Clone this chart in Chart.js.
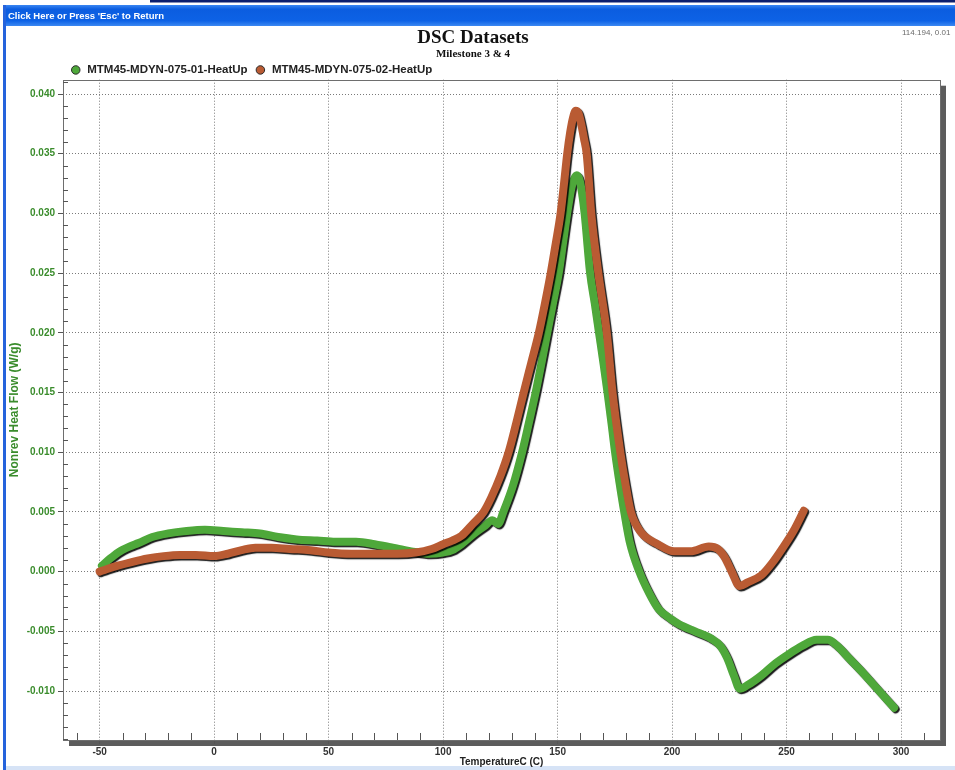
<!DOCTYPE html>
<html>
<head>
<meta charset="utf-8">
<title>DSC Datasets</title>
<script src="https://cdn.jsdelivr.net/npm/chart.js@4.4.1/dist/chart.umd.min.js"></script>
<style>
  html, body { margin: 0; padding: 0; background: #fff; }
  #wrap { position: relative; width: 955px; height: 770px; }
</style>
</head>
<body>
<div id="wrap"><canvas id="dsc-chart"></canvas></div>
<script>
// run 01 - heat up
const tempsRun01 = [
  -49, -46, -42, -37, -33, -27, -20, -12, -4, 4, 12, 20, 28, 36, 45, 53, 62, 70, 78, 86,
  94, 100, 104, 108, 113, 118, 121.5, 124, 126.3, 130.5, 134.5, 137.5, 140.4, 143, 145.5,
  148, 150.5, 152.5, 154.2, 156, 157.2, 158.4, 159.6, 160.6, 161.8, 164.2, 166.2, 168.1, 170,
  171.8, 173.5, 175.1, 177, 179.1, 181.5, 185.7, 190, 194, 199, 203, 210, 217, 221, 224, 227,
  229.5, 233, 239, 245, 251, 257, 263, 268, 272, 277, 283, 290, 297
];
const heatFlowRun01 = [
  0.0005, 0.0010, 0.0016, 0.0021, 0.0024, 0.0029, 0.0032, 0.0034, 0.0035, 0.0034, 0.0033,
  0.0032, 0.0029, 0.0027, 0.0026, 0.0025, 0.0025, 0.0023, 0.0020, 0.0017, 0.0015, 0.0016,
  0.0018, 0.0023, 0.0031, 0.0038, 0.0043, 0.0040, 0.0050, 0.0072, 0.0100, 0.0125, 0.0150,
  0.0175, 0.0200, 0.0225, 0.0250, 0.0277, 0.0300, 0.0321, 0.0329, 0.0332, 0.0328, 0.0318,
  0.0300, 0.0250, 0.0225, 0.0200, 0.0175, 0.0150, 0.0125, 0.0100, 0.0075, 0.0050, 0.0025,
  0.0000, -0.0018, -0.0031, -0.0039, -0.0044, -0.0050, -0.0056, -0.0062, -0.0072, -0.0087,
  -0.0098, -0.0095, -0.0087, -0.0077, -0.0069, -0.0062, -0.0057, -0.0057, -0.0062, -0.0072,
  -0.0084, -0.0099, -0.0114
];

// run 02 - heat up
const tempsRun02 = [
  -50, -47, -42, -36, -29, -22, -15, -8, 0, 6, 12, 18, 25, 33, 42, 50, 60, 70, 80, 88, 95,
  100, 104, 108, 113, 117.7, 121, 125, 128.6, 132, 135.2, 138.5, 141.8, 144.5, 147, 149.2,
  151.3, 152.8, 154.2, 155.5, 156.7, 157.9, 159.1, 160.3, 161.5, 162.7, 164.7, 167.8, 171.5,
  174, 177.4, 179.5, 182, 186.4, 193.7, 200.9, 208, 216, 220, 223, 226, 229.5, 233, 239, 244,
  248, 253, 257.5
];
const heatFlowRun02 = [
  0.0000, 0.0002, 0.0005, 0.0008, 0.0011, 0.0013, 0.0014, 0.0014, 0.0013, 0.0015, 0.0018,
  0.0020, 0.0020, 0.0019, 0.0018, 0.0016, 0.0015, 0.0015, 0.0015, 0.0016, 0.0019, 0.0023,
  0.0026, 0.0030, 0.0040, 0.0050, 0.0062, 0.0080, 0.0100, 0.0125, 0.0150, 0.0175, 0.0200,
  0.0225, 0.0250, 0.0275, 0.0300, 0.0325, 0.0350, 0.0368, 0.0380, 0.0386, 0.0384, 0.0375,
  0.0363, 0.0350, 0.0300, 0.0250, 0.0200, 0.0150, 0.0100, 0.0075, 0.0050, 0.0033, 0.0023,
  0.0017, 0.0017, 0.0021, 0.0019, 0.0012, 0.0000, -0.0012, -0.0009, -0.0003, 0.0008, 0.0019,
  0.0034, 0.0051
];

const seriesNames = ['MTM45-MDYN-075-01-HeatUp', 'MTM45-MDYN-075-02-HeatUp'];

// axis ranges and steps
const tempRange = [-66, 317];
const tempMajorStep = 50;
const tempMinorStep = 10;
const flowRange = [-0.0141, 0.0412];
const flowMajorStep = 0.005;
const flowMinorStep = 0.001;

const greenColor = '#4ea83a';
const brownColor = '#b95b33';
const axisGreen = '#3a8c2c';

const toPoints = (xs, ys) => xs.map((x, i) => ({ x: x, y: ys[i] }));

// window chrome, frame shadow and background
const windowChrome = {
  id: 'windowChrome',
  beforeDraw(chart) {
    const ctx = chart.ctx;
    const w = chart.width, h = chart.height;
    const area = chart.chartArea;
    ctx.save();
    ctx.fillStyle = '#ffffff';
    ctx.fillRect(0, 0, w, h);

    // top rule
    ctx.fillStyle = '#0c1f6e';
    ctx.fillRect(150, 0, w - 150, 2.5);

    // title bar
    const bar = ctx.createLinearGradient(0, 5, 0, 26);
    bar.addColorStop(0, '#3a86f2');
    bar.addColorStop(0.2, '#0b5de0');
    bar.addColorStop(0.75, '#0d62e6');
    bar.addColorStop(1, '#3c88f2');
    ctx.fillStyle = bar;
    ctx.fillRect(3, 5, w - 3, 21);
    ctx.fillStyle = '#ffffff';
    ctx.font = 'bold 9.5px "Liberation Sans", Arial, sans-serif';
    ctx.textBaseline = 'middle';
    ctx.fillText("Click Here or Press 'Esc' to Return", 8, 16);

    // window borders
    ctx.fillStyle = '#2563dc';
    ctx.fillRect(3, 5, 3, h - 5);
    ctx.fillStyle = '#d6e3f6';
    ctx.fillRect(6, h - 4, w - 6, 4);

    // cursor readout
    ctx.fillStyle = '#6a6a6a';
    ctx.font = '8px "Liberation Sans", Arial, sans-serif';
    ctx.fillText('114.194, 0.01', 902, 33);

    // plot drop shadow
    ctx.fillStyle = '#5c5c5c';
    ctx.fillRect(area.right + 1, area.top + 6, 5, area.bottom - area.top);
    ctx.fillRect(area.left + 6, area.bottom + 1, area.right - area.left, 5);
    ctx.restore();
  }
};

// the legend row sits close above the plot
const compactLegend = {
  id: 'compactLegend',
  beforeLayout(chart) {
    const legend = chart.legend;
    if (legend && !legend._compact) {
      const fit = legend.fit;
      legend.fit = function() {
        fit.call(this);
        this.height -= 6;
      };
      legend._compact = true;
    }
  }
};

// plot frame and inner minor ticks
const plotFrame = {
  id: 'plotFrame',
  beforeDatasetsDraw(chart) {
    const ctx = chart.ctx;
    const area = chart.chartArea;
    const xScale = chart.scales.x, yScale = chart.scales.y;
    ctx.save();
    ctx.strokeStyle = '#6e6e6e';
    ctx.lineWidth = 1;
    ctx.strokeRect(Math.round(area.left) + 0.5, Math.round(area.top) + 0.5,
      Math.round(area.right - area.left), Math.round(area.bottom - area.top));

    ctx.strokeStyle = '#555555';
    ctx.beginPath();
    const xPerMajor = Math.round(tempMajorStep / tempMinorStep);
    for (let i = Math.ceil(tempRange[0] / tempMinorStep); i * tempMinorStep <= tempRange[1]; i++) {
      if (i % xPerMajor === 0) continue;
      const px = Math.round(xScale.getPixelForValue(i * tempMinorStep)) + 0.5;
      ctx.moveTo(px, area.bottom);
      ctx.lineTo(px, area.bottom - 7);
    }
    const yPerMajor = Math.round(flowMajorStep / flowMinorStep);
    for (let i = Math.ceil(flowRange[0] / flowMinorStep); i * flowMinorStep <= flowRange[1]; i++) {
      if (i % yPerMajor === 0) continue;
      const py = Math.round(yScale.getPixelForValue(i * flowMinorStep)) + 0.5;
      ctx.moveTo(area.left, py);
      ctx.lineTo(area.left + 5, py);
    }
    ctx.stroke();
    ctx.restore();
  }
};

// dark drop shadow under each trace
const traceShadow = {
  id: 'traceShadow',
  beforeDatasetDraw(chart) {
    const ctx = chart.ctx;
    ctx.save();
    ctx.shadowColor = 'rgba(0, 0, 0, 0.9)';
    ctx.shadowOffsetX = 1.5;
    ctx.shadowOffsetY = 1.5;
    ctx.shadowBlur = 1;
  },
  afterDatasetDraw(chart) {
    chart.ctx.restore();
  }
};

const traceOptions = {
  borderWidth: 8,
  pointRadius: 0,
  pointHoverRadius: 0,
  pointBorderColor: '#2b2b2b',
  pointBorderWidth: 1,
  fill: false,
  cubicInterpolationMode: 'monotone',
  borderCapStyle: 'round',
  borderJoinStyle: 'round'
};

const config = {
  type: 'line',
  data: {
    datasets: [
      Object.assign({
        label: seriesNames[0],
        data: toPoints(tempsRun01, heatFlowRun01),
        borderColor: greenColor,
        backgroundColor: greenColor,
        pointBackgroundColor: greenColor,
        order: 2
      }, traceOptions),
      Object.assign({
        label: seriesNames[1],
        data: toPoints(tempsRun02, heatFlowRun02),
        borderColor: brownColor,
        backgroundColor: brownColor,
        pointBackgroundColor: brownColor,
        order: 1
      }, traceOptions)
    ]
  },
  options: {
    responsive: true,
    maintainAspectRatio: false,
    animation: false,
    events: [],
    layout: { padding: { left: 6, right: 15, top: 29, bottom: 0 } },
    plugins: {
      title: {
        display: true,
        text: 'DSC Datasets',
        color: '#111111',
        font: { family: '"Liberation Serif", "Times New Roman", serif', size: 19, weight: 'bold', lineHeight: 1 },
        padding: { top: 0, bottom: 0 }
      },
      subtitle: {
        display: true,
        text: 'Milestone 3 & 4',
        color: '#111111',
        font: { family: '"Liberation Serif", "Times New Roman", serif', size: 11, weight: 'bold' },
        padding: { top: 0, bottom: -4 }
      },
      legend: {
        display: true,
        position: 'top',
        align: 'start',
        fullSize: false,
        labels: {
          usePointStyle: true,
          pointStyle: 'circle',
          boxHeight: 6,
          padding: 7,
          color: '#222222',
          font: { family: '"Liberation Sans", Arial, sans-serif', size: 11.5, weight: 'bold' },
          sort: (a, b) => a.datasetIndex - b.datasetIndex
        }
      },
      tooltip: { enabled: false }
    },
    scales: {
      x: {
        type: 'linear',
        min: tempRange[0],
        max: tempRange[1],
        afterFit: (scale) => { scale.height = 30; },
        border: { display: false, dash: [1, 2] },
        grid: {
          color: '#7a7a7a',
          lineWidth: 1,
          drawTicks: true,
          tickLength: 4,
          tickColor: '#555555',
          tickBorderDash: []
        },
        ticks: {
          stepSize: tempMajorStep,
          includeBounds: false,
          maxRotation: 0,
          padding: 2,
          color: '#333333',
          font: { family: '"Liberation Sans", Arial, sans-serif', size: 10, weight: 'bold' },
          callback: (v) => String(Math.round(v))
        },
        title: {
          display: true,
          text: 'TemperatureC (C)',
          color: '#222222',
          font: { family: '"Liberation Sans", Arial, sans-serif', size: 10, weight: 'bold' },
          padding: { top: 0, bottom: 2 }
        }
      },
      y: {
        type: 'linear',
        min: flowRange[0],
        max: flowRange[1],
        afterFit: (scale) => { scale.width = 57; },
        border: { display: false, dash: [1, 2] },
        grid: {
          color: '#7a7a7a',
          lineWidth: 1,
          drawTicks: true,
          tickLength: 5,
          tickColor: '#555555',
          tickBorderDash: []
        },
        ticks: {
          stepSize: flowMajorStep,
          includeBounds: false,
          padding: 3,
          color: axisGreen,
          font: { family: '"Liberation Sans", Arial, sans-serif', size: 10, weight: 'bold' },
          callback: (v) => (Math.abs(v) < 1e-9 ? 0 : v).toFixed(3)
        },
        title: {
          display: true,
          text: 'Nonrev Heat Flow (W/g)',
          color: axisGreen,
          font: { family: '"Liberation Sans", Arial, sans-serif', size: 12, weight: 'bold' },
          padding: { top: 1, bottom: 0 }
        }
      }
    }
  },
  plugins: [windowChrome, compactLegend, plotFrame, traceShadow]
};

new Chart(document.getElementById('dsc-chart'), config);
</script>
</body>
</html>
